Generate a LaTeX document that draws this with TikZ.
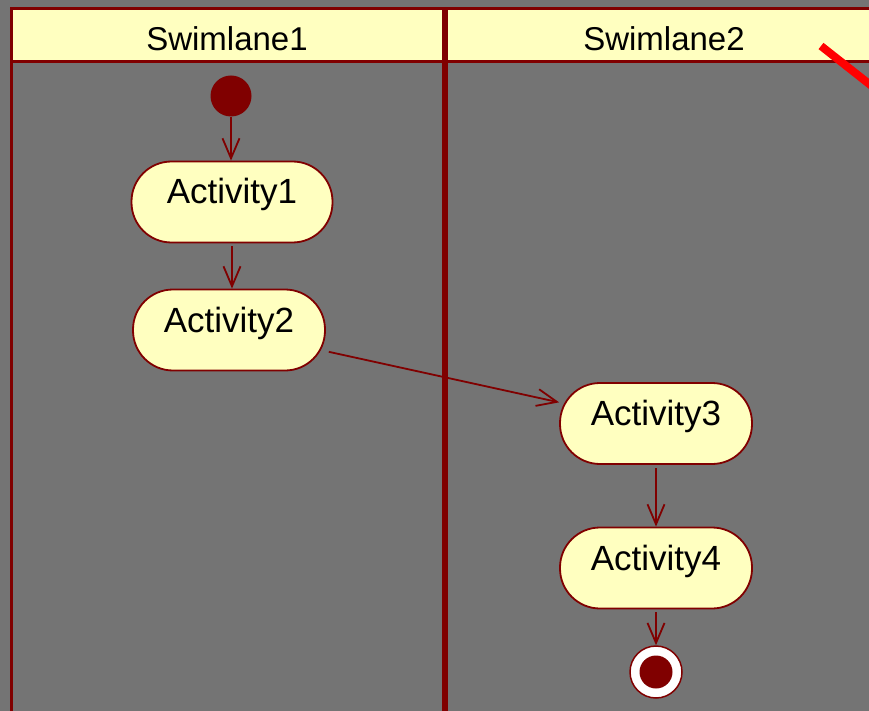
\documentclass[tikz,border=0pt]{standalone}
\usepackage{fontspec}
\setmainfont{Liberation Sans}
\usetikzlibrary{arrows.meta}
\definecolor{lanered}{HTML}{800000}
\definecolor{paleyellow}{HTML}{FFFFC0}
\definecolor{bggray}{HTML}{747474}

\begin{document}
\begin{tikzpicture}%
	[
	x={(1pt, 0pt)},
	y={(0pt, -1pt)},
	>={Straight Barb[length=20pt,width=17pt]},
	lane/.style={draw=lanered, line width=3pt},
	header/.style={draw=lanered, line width=3pt, fill=paleyellow},
	lanetitle/.style={inner sep=0pt, text height=23.6pt, text depth=0pt, font=\fontsize{33}{36}\selectfont},
	activity/.style={rectangle, rounded corners=40pt, draw=lanered, line width=1.8pt, fill=paleyellow, inner sep=0pt, minimum width=192pt, minimum height=81pt, text height=25pt, text depth=21pt, font=\fontsize{35}{38}\selectfont},
	initial/.style={circle, inner sep=0pt, minimum size=41pt, fill=lanered},
	finalstate/.style={circle, inner sep=0pt, minimum size=52pt, fill=white, draw=lanered, line width=1.5pt},
	finaldot/.style={circle, inner sep=0pt, minimum size=33pt, fill=lanered},
	flow/.style={->, draw=lanered, line width=1.8pt, shorten <=3pt},
	marker/.style={draw=red, line width=8pt}]

\useasboundingbox (0,0) rectangle (869,711);
\clip (0,0) rectangle (869,711);
\fill[bggray] (0,0) rectangle (869,711);

\draw[lane] (11,9) rectangle (443,730);
\draw[lane] (446,9) rectangle (900,730);
\draw[header] (11,9) rectangle (443,62);
\draw[header] (446,9) rectangle (900,62);
\node[lanetitle] (lane1) at (227,39) {Swimlane1};
\node[lanetitle] (lane2) at (664,39) {Swimlane2};

\node[initial] (start) at (231,96) {};
\node[activity, minimum width=201pt] (act1) at (232,202) {Activity1};
\node[activity] (act2) at (229,330) {Activity2};
\node[activity] (act3) at (656,423.5) {Activity3};
\node[activity] (act4) at (656,568) {Activity4};
\node[finalstate] (final) at (656,672) {};
\node[finaldot] (finalin) at (final) {};

\draw[flow, shorten <=0pt] (start) -- (start |- act1.north);
\draw[flow] (act1.south) -- (act1.south |- act2.north);
\draw[flow] (act2) -- (act3);
\draw[flow] (act3) -- (act4);
\draw[flow] (act4) -- (final);

\draw[marker] (821,46) -- (920,124);
\end{tikzpicture}
\end{document}
